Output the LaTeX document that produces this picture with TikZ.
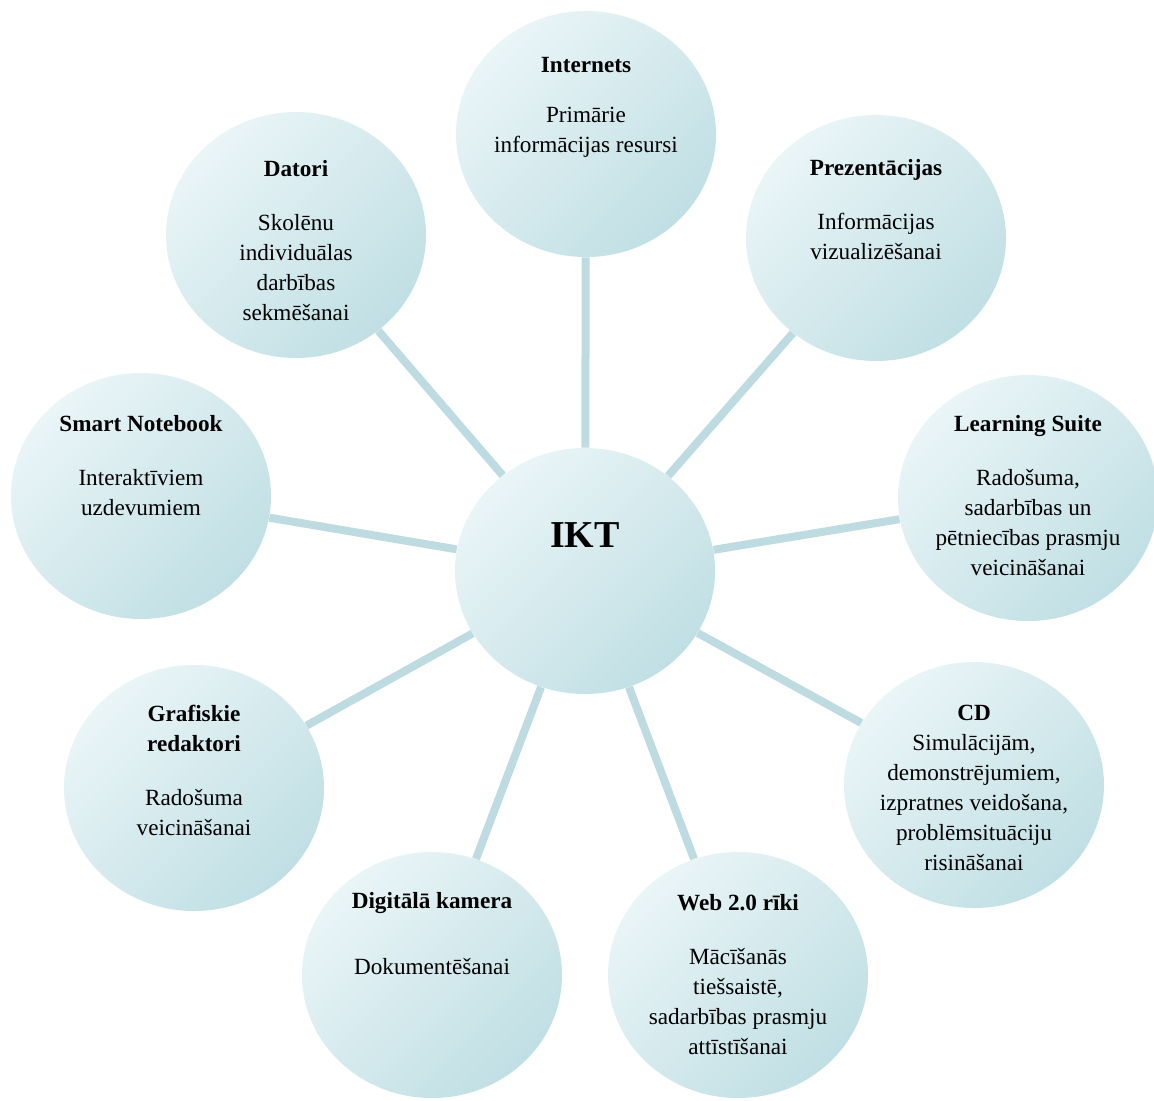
\documentclass[tikz,border=0pt]{standalone}
\usepackage{fontspec}
\setmainfont{Liberation Serif}
\usetikzlibrary{shapes.geometric}
\definecolor{bubtop}{HTML}{EAF5F7}
\definecolor{bubbot}{HTML}{C0DFE4}
\definecolor{spoke}{HTML}{BDDBE0}

\tikzset{
    bubble/.style={ellipse, minimum width=130pt, minimum height=123pt, inner sep=0pt,
        top color=bubtop, bottom color=bubbot, shading angle=45},
    note/.style={anchor=north, align=center, inner sep=0pt, font=\fontsize{11.6}{15}\selectfont},
    spokeline/.style={draw=spoke, line width=4pt}
}

\begin{document}
\begin{tikzpicture}[x=0.5pt, y=-0.5pt]
    \useasboundingbox (0,0) rectangle (1154,1100);

    \node[bubble] (ikt) at (585,571) {};
    \node[bubble] (internets) at (586,134) {};
    \node[bubble] (prezent) at (876,238) {};
    \node[bubble] (learning) at (1028,498) {};
    \node[bubble] (cd) at (974,785) {};
    \node[bubble] (web) at (738,975) {};
    \node[bubble] (kamera) at (432,975) {};
    \node[bubble] (grafika) at (194,788) {};
    \node[bubble] (smart) at (141,496) {};
    \node[bubble] (datori) at (296,235) {};

    \foreach \n in {internets,prezent,learning,cd,web,kamera,grafika,smart,datori}{
        \draw[spokeline] (ikt) -- (\n);
    }

    \node[font=\bfseries\fontsize{19}{22}\selectfont] (ikt-txt) at (585,535) {IKT};
    \node[note] (internets-txt) at (586,57) {\textbf{Internets}\\[10pt] Primārie\\ informācijas resursi};
    \node[note] (prezent-txt) at (876,159) {\textbf{Prezentācijas}\\[12pt] Informācijas\\ vizualizēšanai};
    \node[note] (learning-txt) at (1028,415) {\textbf{Learning Suite}\\[12pt] Radošuma,\\ sadarbības un\\ pētniecības prasmju\\ veicināšanai};
    \node[note] (cd-txt) at (974,705) {\textbf{CD}\\ Simulācijām,\\ demonstrējumiem,\\ izpratnes veidošana,\\ problēmsituāciju\\ risināšanai};
    \node[note] (web-txt) at (738,894) {\textbf{Web 2.0 rīki}\\[12pt] Mācīšanās\\ tiešsaistē,\\ sadarbības prasmju\\ attīstīšanai};
    \node[note] (kamera-txt) at (432,892) {\textbf{Digitālā kamera}\\[18pt] Dokumentēšanai};
    \node[note] (grafika-txt) at (194,705) {\textbf{Grafiskie}\\ \textbf{redaktori}\\[12pt] Radošuma\\ veicināšanai};
    \node[note] (smart-txt) at (141,415) {\textbf{Smart Notebook}\\[12pt] Interaktīviem\\ uzdevumiem};
    \node[note] (datori-txt) at (296,160) {\textbf{Datori}\\[12pt] Skolēnu\\ individuālas\\ darbības\\ sekmēšanai};
\end{tikzpicture}
\end{document}
